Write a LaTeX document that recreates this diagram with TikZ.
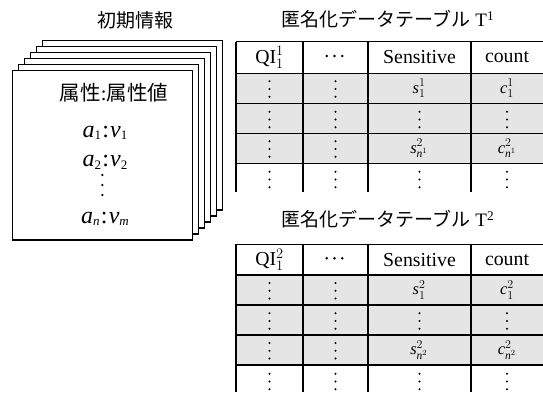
\documentclass[tikz,border=0pt]{standalone}
\usepackage{fontspec}
\setmainfont{Liberation Serif}
\newfontfamily\jp{Noto Sans CJK JP}
\newcommand\avsub[1]{\raisebox{-2.6pt}{\fontsize{13}{14}\selectfont #1}}
\newcommand\avpair[4]{\textit{#1}\avsub{#2}\hspace{1.2pt}:\hspace{1.2pt}\textit{#3}\avsub{#4}}
\tikzset{
  rule/.style={line width=1.4pt},
  card/.style={rule, fill=white},
  cell/.style={inner sep=0pt, font=\fontsize{19.8}{22}\selectfont},
  mcell/.style={inner sep=0pt, font=\fontsize{16.5}{20}\selectfont},
  ttl/.style={inner sep=0pt, font=\fontsize{19}{22}\selectfont},
  ctext/.style={inner sep=0pt, anchor=base, font=\fontsize{24}{26}\selectfont},
  vd/.pic={\foreach \d in {-7.8,0,7.8} \fill (0,\d) circle[radius=1.15pt];},
  hd/.pic={\foreach \d in {-7.8,0,7.8} \fill (\d,0) circle[radius=1.35pt];},
  vdc/.pic={\foreach \d in {-10,0,10} \fill (0,\d) circle[radius=1.25pt];}
}
\begin{document}
\begin{tikzpicture}[x=1pt,y=-1pt]
\useasboundingbox (0,0) rectangle (543,392);
% ---------- stack of cards ----------
\foreach \i in {5,4,3,2,1,0}
  \draw[card] (12.7+6*\i,70.7-6*\i) rectangle +(179.6,169.3);
\node[ttl] (t0) at (135,20) {\jp 初期情報};
\node[inner sep=0pt,font=\fontsize{20.5}{22}\selectfont] (attr) at (114,92.5) {{\jp 属性}:{\jp 属性値}};
\node[ctext] (av1) at (105,137.3) {\avpair{a}{1}{v}{1}};
\node[ctext] (av2) at (105,166.7) {\avpair{a}{2}{v}{2}};
\pic (cd) at (102.3,185) {vdc};
\node[ctext] (avn) at (105,223.3) {\avpair{a}{\textit{n}}{v}{\textit{m}}};
% ---------- table 1 ----------
\node[ttl] (t1) at (388,19) {{\jp 匿名化データテーブル} T\textsuperscript{1}};
\fill[gray!20] (236,73.3) rectangle (543,163.3);
\foreach \y in {41.7,73.3,103.3,133.3,163.3}
  \draw[rule] (236,\y) -- (543,\y);
\foreach \x in {236,303,368,471}
  \draw[rule] (\x,41.7) -- (\x,191.7);
\node[cell] (a11) at (269.5,57.5) {$\mathrm{QI}_{1}^{1}$};
\pic (a12) at (334.5,56) {hd};
\node[cell] (a13) at (419.5,57.5) {Sensitive};
\node[cell] (a14) at (507,57.5) {count};
\pic (p1a) at (269.5,89) {vd};
\pic (p1b) at (335.5,89) {vd};
\node[mcell] (s1) at (419,88.3) {$\mathit{s}_{1}^{1}$};
\node[mcell] (c1) at (507,88.3) {$\mathit{c}_{1}^{1}$};
\foreach \x in {269.5,335.5,419.5,507} \pic at (\x,119.5) {vd};
\pic (p3a) at (269.5,149) {vd};
\pic (p3b) at (335.5,149) {vd};
\node[mcell] (s2) at (419,148.3) {$\mathit{s}_{\mathit{n}^{1}}^{2}$};
\node[mcell] (c2) at (507,148.3) {$\mathit{c}_{\mathit{n}^{1}}^{2}$};
\foreach \x in {269.5,335.5,419.5,507} \pic at (\x,179.5) {vd};
% ---------- table 2 ----------
\node[ttl] (t2) at (388,219) {{\jp 匿名化データテーブル} T\textsuperscript{2}};
\fill[gray!20] (236,275) rectangle (543,365);
\foreach \y in {244.3,275,305,335,365}
  \draw[rule] (236,\y) -- (543,\y);
\foreach \x in {236,303,368,471}
  \draw[rule] (\x,244.3) -- (\x,392);
\node[cell] (b11) at (269.5,259.7) {$\mathrm{QI}_{1}^{2}$};
\pic (b12) at (334.5,258.2) {hd};
\node[cell] (b13) at (419.5,259.7) {Sensitive};
\node[cell] (b14) at (507,259.7) {count};
\pic (q1a) at (269.5,290.7) {vd};
\pic (q1b) at (335.5,290.7) {vd};
\node[mcell] (s3) at (419,290) {$\mathit{s}_{1}^{2}$};
\node[mcell] (c3) at (507,290) {$\mathit{c}_{1}^{2}$};
\foreach \x in {269.5,335.5,419.5,507} \pic at (\x,321) {vd};
\pic (q3a) at (269.5,350.7) {vd};
\pic (q3b) at (335.5,350.7) {vd};
\node[mcell] (s4) at (419,350) {$\mathit{s}_{\mathit{n}^{2}}^{2}$};
\node[mcell] (c4) at (507,350) {$\mathit{c}_{\mathit{n}^{2}}^{2}$};
\foreach \x in {269.5,335.5,419.5,507} \pic at (\x,381.5) {vd};
\end{tikzpicture}
\end{document}
